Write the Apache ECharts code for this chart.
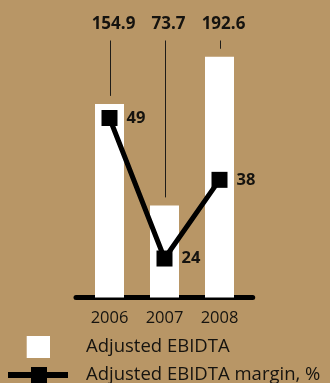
<!DOCTYPE html>
<html>
<head>
<meta charset="utf-8">
<script src="https://cdn.jsdelivr.net/npm/echarts@6/dist/echarts.min.js"></script>
<style>
  html, body { margin: 0; padding: 0; background: #b89666; }
  #chart { width: 330px; height: 383px; }
</style>
</head>
<body>
<div id="chart"></div>
<script>
// Years on the category axis
const years = ['2006', '2007', '2008'];
// Adjusted EBIDTA (bars)
const ebitda = [154.9, 73.7, 192.6];
// Adjusted EBIDTA margin, % (line)
const margin = [49, 24, 38];

const seriesNames = ['Adjusted EBIDTA', 'Adjusted EBIDTA margin, %'];

const valueFont = 'bold 17px "Open Sans", "Noto Sans", sans-serif';
const inkColor = '#15130f';
const legendText = {
  color: inkColor,
  fontFamily: '"Open Sans", "Noto Sans", sans-serif',
  fontSize: 18.5
};

// Legend icons: a 78x22 box (the outer move-to points set the box),
// a square for the bars and a thick line with a square for the margin.
const barIcon = 'path://M0,0M78,22M23.7,0H47V22H23.7Z';
const lineIcon = 'path://M0,0M78,22M5,8H28V3H44V8H65V14H44V19H28V14H5Z';

const chart = echarts.init(document.getElementById('chart'), null, { renderer: 'canvas' });

chart.setOption({
  animation: false,
  backgroundColor: '#b89666',
  grid: [
    // baseline axis (slightly wider than the bar area)
    { left: 76, right: 77.3, top: 47.5, bottom: 85.5 },
    // bars
    { left: 82, right: 83, top: 47.5, bottom: 85.5 },
    // margin line
    { left: 82, right: 83, top: 56.2, bottom: 102 }
  ],
  xAxis: [
    {
      gridIndex: 0, type: 'category', data: years,
      axisLine: { show: true, lineStyle: { color: '#000', width: 5 } },
      axisTick: { show: false }, axisLabel: { show: false }, splitLine: { show: false }
    },
    {
      gridIndex: 1, type: 'category', data: years,
      axisLine: { show: false }, axisTick: { show: false },
      axisLabel: {
        show: true, interval: 0, margin: 12.5, color: inkColor,
        fontFamily: '"Open Sans", "Noto Sans", sans-serif',
        fontSize: 16.5
      }
    },
    {
      gridIndex: 2, type: 'category', data: years, show: false
    }
  ],
  yAxis: [
    { gridIndex: 0, type: 'value', min: 0, max: 200, show: false },
    { gridIndex: 1, type: 'value', min: 0, max: 200, show: false, splitLine: { show: false } },
    { gridIndex: 2, type: 'value', min: 20, max: 60, show: false, splitLine: { show: false } }
  ],
  legend: [
    {
      left: 3, top: 336, padding: 0,
      itemWidth: 78, itemHeight: 22,
      selectedMode: false,
      textStyle: legendText,
      data: [{ name: seriesNames[0], icon: barIcon }]
    },
    {
      left: 3, top: 364, padding: 0,
      itemWidth: 78, itemHeight: 22,
      selectedMode: false,
      textStyle: legendText,
      data: [{ name: seriesNames[1], icon: lineIcon }]
    }
  ],
  series: [
    {
      name: seriesNames[0],
      type: 'bar',
      xAxisIndex: 1, yAxisIndex: 1,
      data: ebitda,
      barWidth: 29,
      itemStyle: { color: '#ffffff' },
      silent: true
    },
    {
      // value labels above the bars with thin leader lines
      type: 'custom',
      xAxisIndex: 1, yAxisIndex: 1,
      data: ebitda.map((v, i) => [i, v]),
      clip: false,
      silent: true,
      renderItem: function (params, api) {
        const v = api.value(1);
        const top = api.coord([api.value(0), v]);
        const x = Math.round(top[0]) + 0.5;
        return {
          type: 'group',
          children: [
            {
              type: 'line',
              shape: { x1: x, y1: 40.5, x2: x, y2: top[1] - 8 },
              style: { stroke: '#1e1c18', lineWidth: 1 }
            },
            {
              type: 'text',
              style: {
                text: v.toFixed(1),
                x: top[0] + 4,
                y: 24.5,
                align: 'center',
                verticalAlign: 'middle',
                font: valueFont,
                fill: inkColor
              }
            }
          ]
        };
      }
    },
    {
      name: seriesNames[1],
      type: 'line',
      xAxisIndex: 2, yAxisIndex: 2,
      data: margin,
      symbol: 'rect',
      symbolSize: 16,
      z: 5,
      lineStyle: { color: '#000', width: 5 },
      itemStyle: { color: '#000', borderWidth: 0 },
      label: {
        show: true,
        position: 'right',
        distance: 9,
        color: inkColor,
        fontFamily: '"Open Sans", "Noto Sans", sans-serif',
        fontWeight: 'bold',
        fontSize: 16.5
      }
    }
  ]
});
</script>
</body>
</html>
